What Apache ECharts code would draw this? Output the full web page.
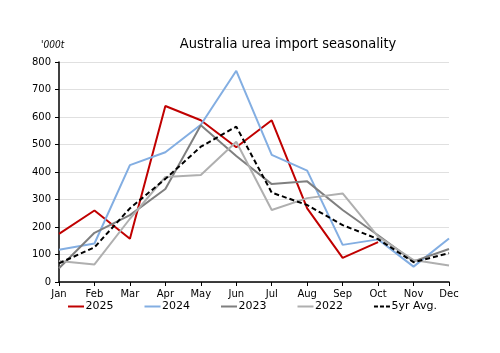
<!DOCTYPE html>
<html><head><meta charset="utf-8">
<script src="https://cdn.jsdelivr.net/npm/echarts@6/dist/echarts.min.js"></script>
<style>html,body{margin:0;padding:0;background:#fff}#c{width:500px;height:353px}</style>
</head><body><div id="c"></div>
<script>
const months = ['Jan','Feb','Mar','Apr','May','Jun','Jul','Aug','Sep','Oct','Nov','Dec'];
const s2025 = [175, 260, 157, 640, 588, 490, 588, 268, 88, 145, null, null];
const s2024 = [117, 140, 425, 472, 572, 768, 462, 405, 135, 155, 56, 158];
const s2023 = [50, 179, 243, 338, 570, 458, 356, 366, 262, 170, 75, 120];
const s2022 = [76, 64, 230, 382, 389, 510, 262, 305, 322, 165, 80, 60];
const avg5 = [68, 126, 268, 375, 492, 565, 325, 280, 207, 156, 72, 105];
const yTicks = [0,100,200,300,400,500,600,700,800];

const font = 'DejaVu Sans';
const chart = echarts.init(document.getElementById('c'));
function line(name, data, color, type){
  return {name, type:'line', data, symbol:'none', smooth:false, connectNulls:false,
    lineStyle:{color, width:2, type:type||'solid'}, itemStyle:{color}};
}
const solidIcon = 'path://M0,0h16v2h-16z';
const dashIcon = 'path://M0,0h4v2h-4z M6,0h4v2h-4z M12,0h4v2h-4z';
chart.setOption({
  animation:false,
  backgroundColor:'#fff',
  title:[{text:'Australia urea import seasonality', left:283, top:32, textAlign:'center',
    textStyle:{fontFamily:'DejaVu Sans Condensed', fontSize:14.5, fontWeight:'normal', color:'#000'}},
    {text:"'000t", left:36, top:35, textStyle:{fontFamily:'DejaVu Sans Condensed', fontSize:10, fontStyle:'italic', fontWeight:'normal', color:'#000'}}],
  grid:{left:59, right:51, top:62, bottom:71},
  legend:{left:63, top:296, itemWidth:17, itemHeight:2, itemGap:31,
    textStyle:{fontFamily:font, fontSize:11, color:'#000', padding:[0,0,0,-4]},
    data:[{name:'2025', icon:solidIcon},{name:'2024', icon:solidIcon},{name:'2023', icon:solidIcon},{name:'2022', icon:solidIcon},{name:'5yr Avg.', icon:dashIcon}]},
  xAxis:{type:'category', data:months, boundaryGap:false,
    axisLine:{lineStyle:{color:'#000', width:1.5}},
    axisTick:{show:true, length:4, lineStyle:{color:'#000'}},
    axisLabel:{fontFamily:font, fontSize:10, color:'#000', margin:7}},
  yAxis:{type:'value', min:yTicks[0], max:yTicks[yTicks.length-1], interval:100,
    axisLine:{show:true, lineStyle:{color:'#000', width:1.5}},
    axisTick:{show:true, length:4, lineStyle:{color:'#000'}},
    splitLine:{lineStyle:{color:'#e0e0e0', width:1}},
    axisLabel:{fontFamily:font, fontSize:10, color:'#000', margin:8}},
  series:[
    line('2025', s2025, '#C00000'),
    line('2024', s2024, '#83AEE2'),
    line('2023', s2023, '#7F7F7F'),
    line('2022', s2022, '#AFAFAF'),
    line('5yr Avg.', avg5, '#000000', [5,3])
  ]
});
</script></body></html>
